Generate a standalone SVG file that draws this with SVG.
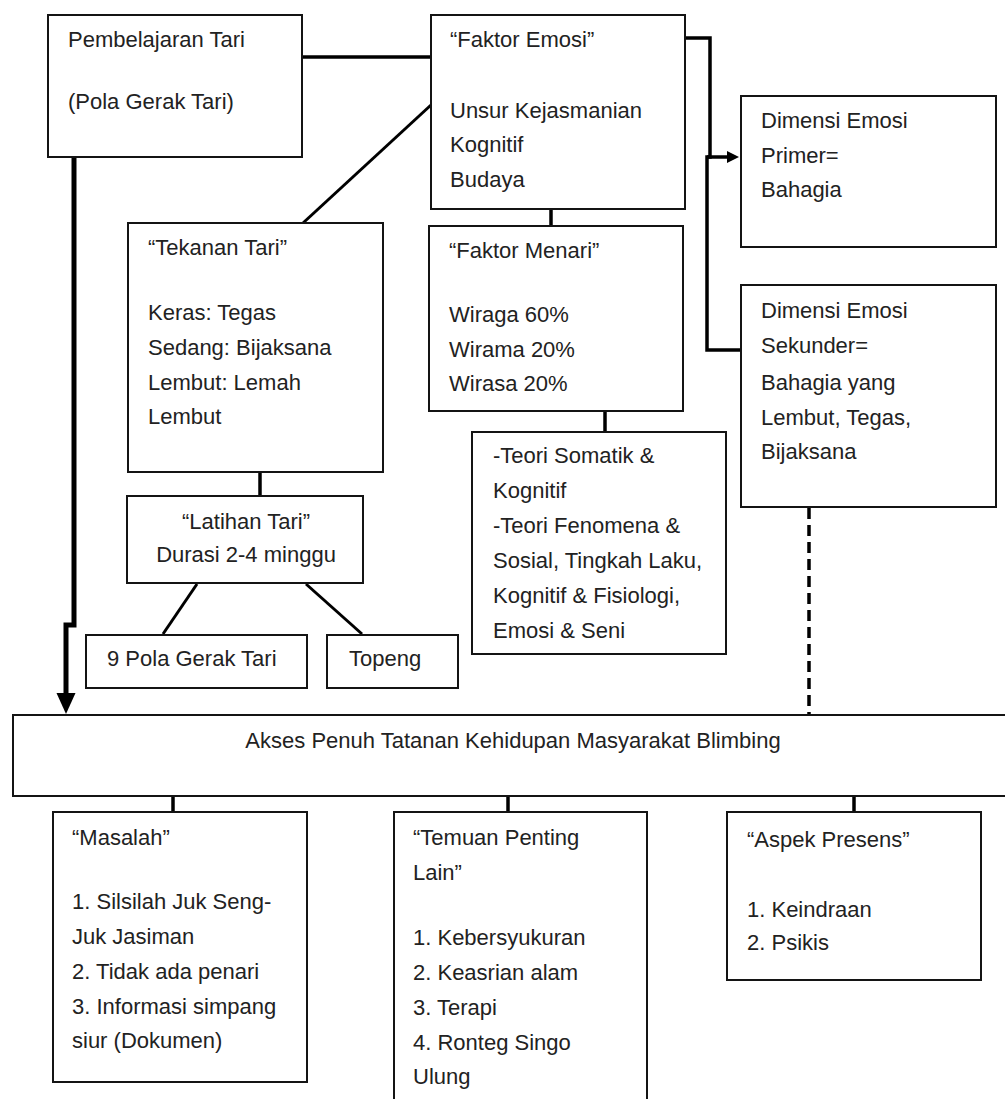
<svg xmlns="http://www.w3.org/2000/svg" width="1005" height="1099" viewBox="0 0 1005 1099">
  <style>
    .box { fill: #ffffff; stroke: #141414; stroke-width: 2; }
    .t { font-family: "Liberation Sans", Arial, sans-serif; font-size: 22px; fill: #222222; }
    .mid { text-anchor: middle; }
    .link { fill: none; stroke: #000000; stroke-width: 3.5; stroke-linejoin: miter; }
    .thin { stroke-width: 3; }
    .heavy { stroke-width: 5; }
    .dash { stroke-dasharray: 11 6; stroke-width: 3.5; }
  </style>
  <defs>
    <marker id="headBig" markerUnits="userSpaceOnUse" markerWidth="22" markerHeight="22" viewBox="0 -11 22 22" refX="0" refY="0" orient="auto">
      <path d="M0,-9.5 L21,0 L0,9.5 z" fill="#000000"/>
    </marker>
    <marker id="headSmall" markerUnits="userSpaceOnUse" markerWidth="14" markerHeight="14" viewBox="0 -7 14 14" refX="0" refY="0" orient="auto">
      <path d="M0,-6 L12,0 L0,6 z" fill="#000000"/>
    </marker>
  </defs>

  <rect x="0" y="0" width="1005" height="1099" fill="#ffffff"/>

  <!-- connectors -->
  <g id="connectors">
    <line class="link" x1="302" y1="57" x2="431" y2="57"/>
    <line class="link thin" x1="303" y1="223" x2="431" y2="105"/>
    <path class="link" d="M685,38 H710 V157 H707 V350 H741"/>
    <path class="link" d="M707,157 H727" marker-end="url(#headSmall)"/>
    <line class="link" x1="551" y1="209" x2="551" y2="226"/>
    <line class="link" x1="605" y1="411" x2="605" y2="432"/>
    <line class="link" x1="260" y1="472" x2="260" y2="496"/>
    <line class="link thin" x1="197" y1="584" x2="163" y2="634"/>
    <line class="link thin" x1="306" y1="584" x2="362" y2="634"/>
    <path class="link heavy" d="M74,157 V625 H66 V693" marker-end="url(#headBig)"/>
    <line class="link dash" x1="809" y1="508" x2="809" y2="715"/>
    <line class="link" x1="173" y1="796" x2="173" y2="812"/>
    <line class="link" x1="508" y1="796" x2="508" y2="812"/>
    <line class="link" x1="854" y1="796" x2="854" y2="812"/>
  </g>

  <g id="pembelajaran-tari">
    <rect class="box" x="48" y="15" width="254" height="142"/>
    <text class="t" x="68" y="47">Pembelajaran Tari</text>
    <text class="t" x="68" y="109">(Pola Gerak Tari)</text>
  </g>

  <g id="faktor-emosi">
    <rect class="box" x="431" y="15" width="254" height="194"/>
    <text class="t" x="450" y="47">“Faktor Emosi”</text>
    <text class="t" x="450" y="118">Unsur Kejasmanian</text>
    <text class="t" x="450" y="152">Kognitif</text>
    <text class="t" x="450" y="187">Budaya</text>
  </g>

  <g id="dimensi-primer">
    <rect class="box" x="741" y="96" width="255" height="151"/>
    <text class="t" x="761" y="128">Dimensi Emosi</text>
    <text class="t" x="761" y="163">Primer=</text>
    <text class="t" x="761" y="197">Bahagia</text>
  </g>

  <g id="tekanan-tari">
    <rect class="box" x="128" y="223" width="255" height="249"/>
    <text class="t" x="148" y="255">“Tekanan Tari”</text>
    <text class="t" x="148" y="320">Keras: Tegas</text>
    <text class="t" x="148" y="355">Sedang: Bijaksana</text>
    <text class="t" x="148" y="390">Lembut: Lemah</text>
    <text class="t" x="148" y="424">Lembut</text>
  </g>

  <g id="faktor-menari">
    <rect class="box" x="429" y="226" width="254" height="185"/>
    <text class="t" x="449" y="258">“Faktor Menari”</text>
    <text class="t" x="449" y="322">Wiraga 60%</text>
    <text class="t" x="449" y="357">Wirama 20%</text>
    <text class="t" x="449" y="391">Wirasa 20%</text>
  </g>

  <g id="dimensi-sekunder">
    <rect class="box" x="741" y="285" width="255" height="222"/>
    <text class="t" x="761" y="318">Dimensi Emosi</text>
    <text class="t" x="761" y="353">Sekunder=</text>
    <text class="t" x="761" y="390">Bahagia yang</text>
    <text class="t" x="761" y="425">Lembut, Tegas,</text>
    <text class="t" x="761" y="459">Bijaksana</text>
  </g>

  <g id="latihan-tari">
    <rect class="box" x="127" y="496" width="236" height="87"/>
    <text class="t mid" x="246" y="529">“Latihan Tari”</text>
    <text class="t mid" x="246" y="562">Durasi 2-4 minggu</text>
  </g>

  <g id="teori">
    <rect class="box" x="472" y="432" width="254" height="222"/>
    <text class="t" x="493" y="463">-Teori Somatik &amp;</text>
    <text class="t" x="493" y="498">Kognitif</text>
    <text class="t" x="493" y="533">-Teori Fenomena &amp;</text>
    <text class="t" x="493" y="568">Sosial, Tingkah Laku,</text>
    <text class="t" x="493" y="603">Kognitif &amp; Fisiologi,</text>
    <text class="t" x="493" y="638">Emosi &amp; Seni</text>
  </g>

  <g id="pola-gerak">
    <rect class="box" x="86" y="635" width="221" height="53"/>
    <text class="t" x="107" y="666">9 Pola Gerak Tari</text>
  </g>

  <g id="topeng">
    <rect class="box" x="327" y="635" width="131" height="53"/>
    <text class="t" x="349" y="666">Topeng</text>
  </g>

  <g id="akses-penuh">
    <rect class="box" x="13" y="715" width="1000" height="81"/>
    <text class="t mid" x="513" y="748">Akses Penuh Tatanan Kehidupan Masyarakat Blimbing</text>
  </g>

  <g id="masalah">
    <rect class="box" x="53" y="812" width="254" height="270"/>
    <text class="t" x="72" y="845">“Masalah”</text>
    <text class="t" x="72" y="909">1. Silsilah Juk Seng-</text>
    <text class="t" x="72" y="944">Juk Jasiman</text>
    <text class="t" x="72" y="979">2. Tidak ada penari</text>
    <text class="t" x="72" y="1014">3. Informasi simpang</text>
    <text class="t" x="72" y="1048">siur (Dokumen)</text>
  </g>

  <g id="temuan-penting">
    <rect class="box" x="394" y="812" width="253" height="300"/>
    <text class="t" x="413" y="845">“Temuan Penting</text>
    <text class="t" x="413" y="880">Lain”</text>
    <text class="t" x="413" y="945">1. Kebersyukuran</text>
    <text class="t" x="413" y="980">2. Keasrian alam</text>
    <text class="t" x="413" y="1015">3. Terapi</text>
    <text class="t" x="413" y="1050">4. Ronteg Singo</text>
    <text class="t" x="413" y="1084">Ulung</text>
  </g>

  <g id="aspek-presens">
    <rect class="box" x="727" y="812" width="254" height="168"/>
    <text class="t" x="747" y="847">“Aspek Presens”</text>
    <text class="t" x="747" y="917">1. Keindraan</text>
    <text class="t" x="747" y="950">2. Psikis</text>
  </g>
</svg>
